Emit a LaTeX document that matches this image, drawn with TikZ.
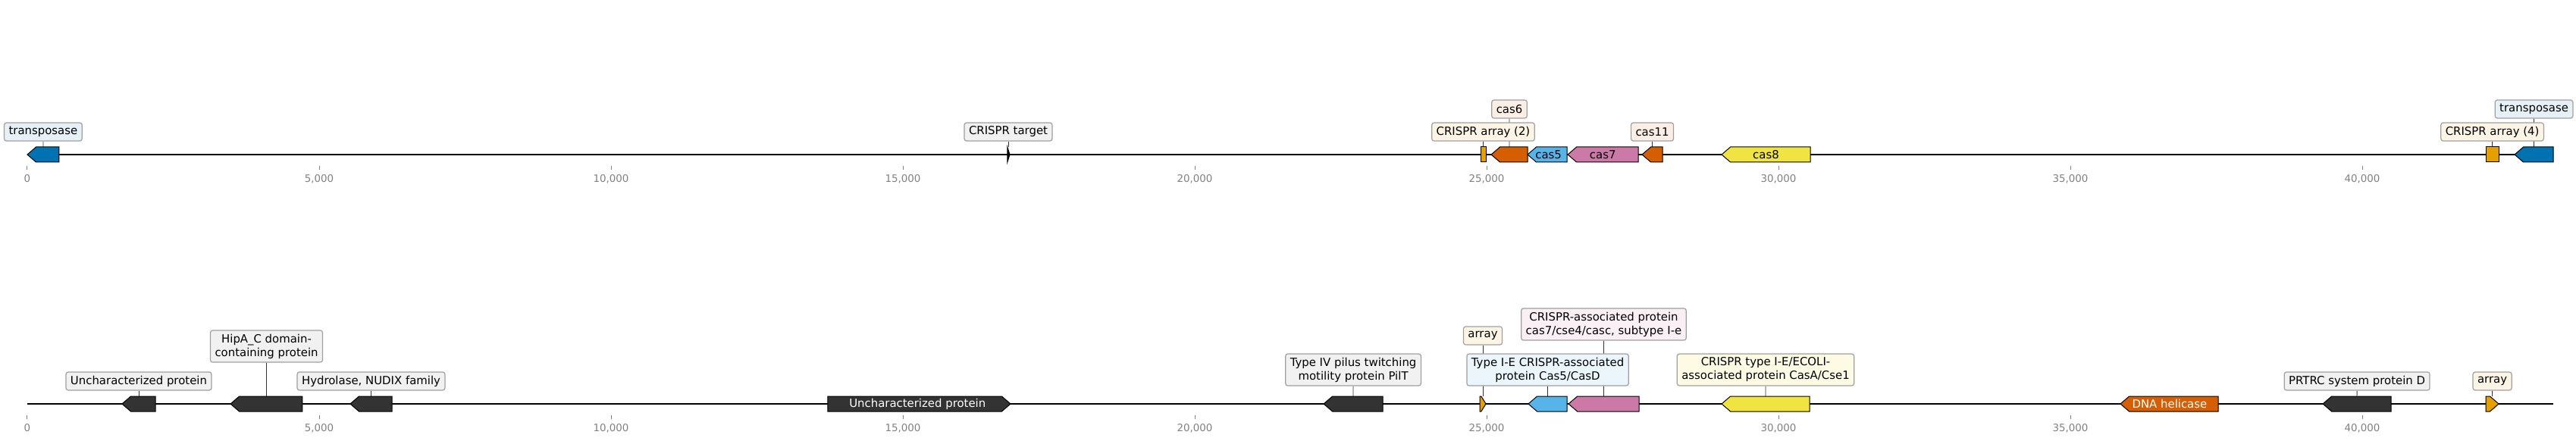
\documentclass[tikz,border=0pt]{standalone}
\usepackage{fontspec}
\setmainfont{DejaVu Sans}
\usetikzlibrary{backgrounds}

\definecolor{tpblue}{HTML}{0072B2}
\definecolor{arrorange}{HTML}{E69F00}
\definecolor{casverm}{HTML}{D55E00}
\definecolor{casblue}{HTML}{56B4E9}
\definecolor{caspink}{HTML}{CC79A7}
\definecolor{casyellow}{HTML}{F0E442}
\definecolor{darkgene}{HTML}{333333}

\newcommand{\lblfont}{\fontsize{7.45}{9}\selectfont}
\newcommand{\tickfont}{\fontsize{6.7}{8}\selectfont}

% gene pointing left: name, start, end, head (kb), colour, row
\newcommand{\featL}[6]{%
  \filldraw[feat, fill=#5] (#2,#6) -- (#2+#4,#6-10) -- (#3,#6-10) -- (#3,#6+10) -- (#2+#4,#6+10) -- cycle;
  \coordinate (#1) at ({(#2+#3)/2},#6-10);}
% gene pointing right
\newcommand{\featR}[6]{%
  \filldraw[feat, fill=#5] (#3,#6) -- (#3-#4,#6+10) -- (#2,#6+10) -- (#2,#6-10) -- (#3-#4,#6-10) -- cycle;
  \coordinate (#1) at ({(#2+#3)/2},#6-10);}
% feature without strand
\newcommand{\featB}[5]{%
  \filldraw[feat, fill=#4] (#2,#5-10) rectangle (#3,#5+10);
  \coordinate (#1) at ({(#2+#3)/2},#5-10);}

\tikzset{
  feat/.style={draw=black, line width=0.5pt, line join=miter},
  lbl/.style={draw=gray!75, line width=0.6pt, rounded corners=1.5pt, inner xsep=3pt, inner ysep=2.3pt,
    minimum height=12pt, font=\lblfont, align=center, text=black},
  twoline/.style={minimum height=21pt},
  leader/.style={draw=black!80, line width=0.4pt},
  tickmark/.style={draw=gray, line width=0.5pt},
  ticklbl/.style={font=\tickfont, text=gray, inner sep=0pt},
  seqline/.style={draw=black, line width=1.25pt}
}

\begin{document}
\begin{tikzpicture}[x=38.5pt, y=-0.5pt]
    % x in kb, y in pixels from the top
    \useasboundingbox (-0.4675,0) rectangle (43.662,582);

    % axis ticks of both tracks
    \foreach \row in {204,533}{
      \foreach \v/\t in {0/0,5/{5,000},10/{10,000},15/{15,000},20/{20,000},25/{25,000},30/{30,000},35/{35,000},40/{40,000}}{
        \draw[tickmark] (\v,\row+15) -- (\v,\row+20);
        \node[ticklbl] at (\v,\row+32) {\t};
      }
    }

    % top track: genes
    \featL{f-tp1}{0}{0.545}{0.15}{tpblue}{204}
    \filldraw[feat, fill=black] (16.790,194) -- (16.830,204) -- (16.790,214) -- cycle;
    \coordinate (f-target) at (16.805,194);
    \featB{f-arr2}{24.896}{24.987}{arrorange}{204}
    \featL{f-cas6}{25.078}{25.701}{0.15}{casverm}{204}
    \featL{f-cas5}{25.701}{26.377}{0.15}{casblue}{204}
    \featL{f-cas7}{26.390}{27.597}{0.15}{caspink}{204}
    \featL{f-cas11}{27.662}{28.013}{0.15}{casverm}{204}
    \featL{f-cas8}{29.026}{30.545}{0.15}{casyellow}{204}
    \featB{f-arr4}{42.117}{42.338}{arrorange}{204}
    \featL{f-tp2}{42.610}{43.273}{0.15}{tpblue}{204}
    \node[font=\lblfont] (t-cas5) at (26.060,204) {cas5};
    \node[font=\lblfont] (t-cas7) at (26.990,204) {cas7};
    \node[font=\lblfont] (t-cas8) at (29.785,204) {cas8};

    % top track: labels
    \node[lbl, fill=tpblue!10] (l-tp1) at (0.272,174) {transposase};
    \node[lbl, fill=darkgene!7] (l-target) at (16.805,174) {CRISPR target};
    \node[lbl, fill=arrorange!10] (l-arr2) at (24.941,174) {CRISPR array (2)};
    \node[lbl, fill=casverm!10] (l-cas6) at (25.390,144) {cas6};
    \node[lbl, fill=casverm!10] (l-cas11) at (27.838,174) {cas11};
    \node[lbl, fill=arrorange!10] (l-arr4) at (42.228,174) {CRISPR array (4)};
    \node[lbl, fill=tpblue!10] (l-tp2) at (42.942,144) {transposase};

    % bottom track: genes
    \featL{g-unc1}{1.623}{2.195}{0.15}{darkgene}{533}
    \featL{g-hipa}{3.481}{4.714}{0.15}{darkgene}{533}
    \featL{g-nudix}{5.532}{6.247}{0.15}{darkgene}{533}
    \featR{g-unc2}{13.714}{16.844}{0.15}{darkgene}{533}
    \featL{g-pilt}{22.208}{23.221}{0.15}{darkgene}{533}
    \featR{g-arr1}{24.883}{24.987}{0.08}{arrorange}{533}
    \featL{g-cas5}{25.714}{26.377}{0.15}{casblue}{533}
    \featL{g-cas7}{26.403}{27.610}{0.15}{caspink}{533}
    \featL{g-casa}{29.026}{30.532}{0.15}{casyellow}{533}
    \featL{g-heli}{35.857}{37.532}{0.15}{casverm}{533}
    \featL{g-prtrc}{39.325}{40.494}{0.15}{darkgene}{533}
    \featR{g-arr2}{42.117}{42.338}{0.15}{arrorange}{533}
    \node[font=\lblfont, text=white] (t-unc2) at (15.250,533) {Uncharacterized protein};
    \node[font=\lblfont, text=white] (t-heli) at (36.700,533) {DNA helicase};

    % bottom track: labels
    \node[lbl, fill=darkgene!7] (m-unc1) at (1.909,503) {Uncharacterized protein};
    \node[lbl, twoline, fill=darkgene!7] (m-hipa) at (4.098,457) {HipA\_C domain-\\containing protein};
    \node[lbl, fill=darkgene!7] (m-nudix) at (5.890,503) {Hydrolase, NUDIX family};
    \node[lbl, twoline, fill=darkgene!7] (m-pilt) at (22.715,488) {Type IV pilus twitching\\motility protein PilT};
    \node[lbl, fill=arrorange!10] (m-arr1) at (24.935,443) {array};
    \node[lbl, twoline, fill=casblue!12] (m-cas5) at (26.046,488) {Type I-E CRISPR-associated\\protein Cas5/CasD};
    \node[lbl, twoline, fill=caspink!12] (m-cas7) at (27.006,428) {CRISPR-associated protein\\cas7/cse4/casc, subtype I-e};
    \node[lbl, twoline, fill=casyellow!15] (m-casa) at (29.779,488) {CRISPR type I-E/ECOLI-\\associated protein CasA/Cse1};
    \node[lbl, fill=darkgene!7] (m-prtrc) at (39.910,503) {PRTRC system protein D};
    \node[lbl, fill=arrorange!10] (m-arr2) at (42.228,503) {array};

    % sequence lines and leaders, behind everything
    \begin{scope}[on background layer]
      \coordinate (s-top-a) at (0,204);
      \coordinate (s-top-b) at (43.273,204);
      \coordinate (s-bot-a) at (0,533);
      \coordinate (s-bot-b) at (43.273,533);
      \draw[seqline] (s-top-a) -- (s-top-b);
      \draw[seqline] (s-bot-a) -- (s-bot-b);
      \foreach \l/\f in {l-tp1/f-tp1,l-target/f-target,l-arr2/f-arr2,l-cas6/f-cas6,l-cas11/f-cas11,l-arr4/f-arr4,l-tp2/f-tp2,
        m-unc1/g-unc1,m-hipa/g-hipa,m-nudix/g-nudix,m-pilt/g-pilt,m-arr1/g-arr1,m-cas5/g-cas5,m-cas7/g-cas7,m-casa/g-casa,m-prtrc/g-prtrc,m-arr2/g-arr2}
        \draw[leader] (\l.south) -- (\f);
    \end{scope}
\end{tikzpicture}
\end{document}
